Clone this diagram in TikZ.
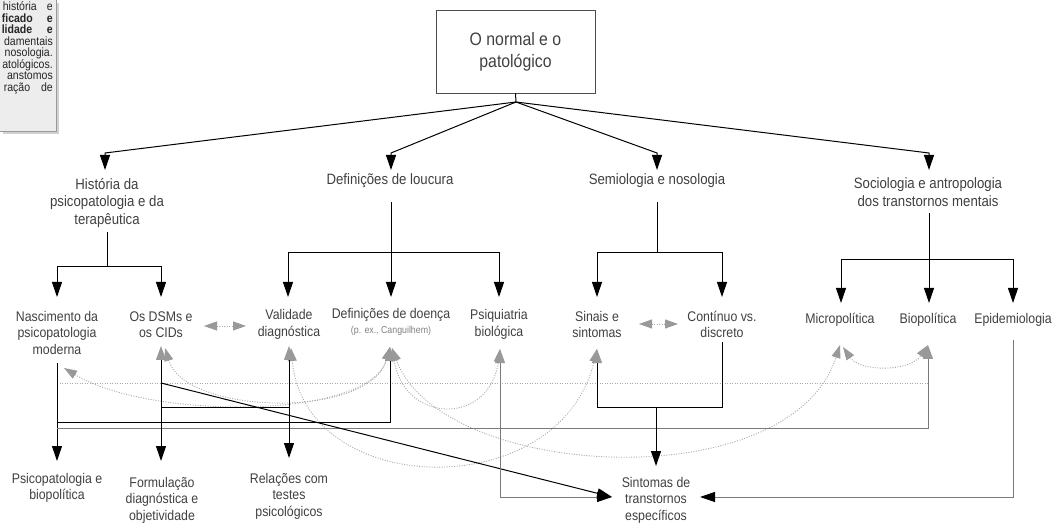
\documentclass[tikz,border=0pt]{standalone}
\usepackage{fontspec}
\setmainfont{Liberation Sans}[FakeStretch=0.88]
\usetikzlibrary{arrows.meta}
\definecolor{txt}{HTML}{404040}
\definecolor{gr}{HTML}{999999}
\definecolor{dotc}{HTML}{AAAAAA}
\definecolor{lg}{HTML}{7A7A7A}
\begin{document}
\begin{tikzpicture}[x=1pt,y=-1pt,
  every node/.style={text=txt,align=center,inner sep=0pt},
  ttl/.style={font=\fontsize{15}{17.5}\selectfont},
  lab/.style={font=\fontsize{14}{16.5}\selectfont},
  boxtxt/.style={font=\fontsize{12}{11.5}\selectfont,align=right,anchor=north east,text=black!85},
  ln/.style={draw=black,line width=1pt},
  lng/.style={draw=lg,line width=1pt},
  tipblack/.style={arrows={-Triangle[width=10pt,length=15pt,color=black]}},
  gstart/.style={arrows={Triangle[width=10pt,length=14pt,color=gr]-}},
  gboth/.style={arrows={Triangle[width=10pt,length=14pt,color=gr]-Triangle[width=10pt,length=15pt,color=black]}},
  dcurve/.style={draw=dotc,line width=0.9pt,dash pattern=on 1pt off 1.5pt,
    arrows={Triangle[width=9pt,length=13pt,color=gr]-Triangle[width=9pt,length=13pt,color=gr]}},
  dline/.style={draw=dotc,line width=0.9pt,dash pattern=on 1pt off 1.5pt}
]
\useasboundingbox (0,0) rectangle (1057,526);

% ---- text box at top left (only its right part is visible)
\fill[black!18] (3,3) rectangle (59,134);
\draw[draw=black!40,fill=black!7] (-2,-2) rectangle (56,131);
\node[boxtxt] (boxtext) at (53,1.5) {\makebox[50pt][s]{história e}\\
  \makebox[51pt][s]{\bfseries ficado e}\\
  \makebox[51pt][s]{\bfseries lidade e}\\
  damentais\\
  nosologia.\\
  atológicos.\\
  anstomos\\
  \makebox[49pt][s]{ração de}};

% ---- root
\node[draw=black!70,line width=0.8pt,minimum width=159pt,minimum height=83pt,
  font=\fontsize{18}{22}\selectfont] (root) at (515.5,51.5) {O normal e o\\patológico};

% ---- level 1
\node[ttl] (hist) at (107,203) {História da\\psicopatologia e da\\terapêutica};
\node[ttl] (defl) at (390,181) {Definições de loucura};
\node[ttl] (semi) at (657,181) {Semiologia e nosologia};
\node[ttl] (soc) at (928,192) {Sociologia e antropologia\\dos transtornos mentais};

% ---- level 2
\node[lab] (nasc) at (57,332.5) {Nascimento da\\psicopatologia\\moderna};
\node[lab] (dsm) at (161,324.5) {Os DSMs e\\os CIDs};
\node[lab] (val) at (289,324.5) {Validade\\diagnóstica};
\node[lab] (defd) at (391,322) {Definições de doença\\[-1.5pt]{\fontsize{10}{10}\selectfont\color{black!50}(p. ex., Canguilhem)}};
\node[lab] (psiq) at (499,324.5) {Psiquiatria\\biológica};
\node[lab] (sin) at (597,324.5) {Sinais e\\sintomas};
\node[lab] (cont) at (722,324.5) {Contínuo vs.\\discreto};
\node[lab] (micro) at (840,320) {Micropolítica};
\node[lab] (bio) at (928,320) {Biopolítica};
\node[lab] (epi) at (1013,320) {Epidemiologia};

% ---- level 3
\node[lab] (psib) at (57,488) {Psicopatologia e\\biopolítica};
\node[lab] (form) at (162,500) {Formulação\\diagnóstica e\\objetividade};
\node[lab] (rel) at (289,496) {Relações com\\testes\\psicológicos};
\node[lab] (sint) at (656,500) {Sintomas de\\transtornos\\específicos};

% ---- root fan
\coordinate (hub) at (516,102);
\draw[ln] (root.south) -- (hub);
\coordinate (f1) at (105,153); \coordinate (f1t) at (105,170);
\coordinate (f2) at (391,153); \coordinate (f2t) at (391,170);
\coordinate (f3) at (657,153); \coordinate (f3t) at (657,170);
\coordinate (f4) at (929,153); \coordinate (f4t) at (929,170);
\draw[ln,tipblack] (hub) -- (f1) -- (f1t);
\draw[ln,tipblack] (hub) -- (f2) -- (f2t);
\draw[ln,tipblack] (hub) -- (f3) -- (f3t);
\draw[ln,tipblack] (hub) -- (f4) -- (f4t);

% ---- history branch
\coordinate (hs) at (107,232); \coordinate (hb) at (107,267);
\coordinate (hl) at (57,297); \coordinate (hr) at (161,297);
\draw[ln] (hs) -- (hb);
\draw[ln,tipblack] (hb) -| (hl);
\draw[ln,tipblack] (hb) -| (hr);

% ---- definitions branch
\coordinate (ds) at (391,202); \coordinate (db) at (391,253);
\coordinate (dl) at (288,297); \coordinate (dm) at (391,297); \coordinate (dr) at (499,297);
\draw[ln,tipblack] (ds) -- (dm);
\draw[ln,tipblack] (db) -| (dl);
\draw[ln,tipblack] (db) -| (dr);

% ---- semiology branch
\coordinate (ss) at (657,202); \coordinate (sb) at (657,253);
\coordinate (sl) at (597,297); \coordinate (sr) at (722,297);
\draw[ln] (ss) -- (sb);
\draw[ln,tipblack] (sb) -| (sl);
\draw[ln,tipblack] (sb) -| (sr);

% ---- sociology branch
\coordinate (cs) at (929,213); \coordinate (cb) at (929,260);
\coordinate (cl) at (841,303); \coordinate (cm) at (929,303); \coordinate (cr) at (1013,303);
\draw[ln,tipblack] (cs) -- (cm);
\draw[ln,tipblack] (cb) -| (cl);
\draw[ln,tipblack] (cb) -| (cr);

% ---- tips of level 2 nodes (bottom side)
\coordinate (nasc-t) at (64,368);
\coordinate (dsm-t) at (161,346);
\coordinate (val-t) at (289,346);
\coordinate (defd-t) at (390,347);
\coordinate (psiq-t) at (500,349);
\coordinate (sin-t) at (597,349);
\coordinate (micro-t) at (840,345);
\coordinate (bio-t) at (928,345);
\coordinate (cont-b) at (722,342);
\coordinate (epi-b) at (1013,340);
\coordinate (nasc-b) at (57,363);

% ---- dotted relations
\draw[dline] (57,383) -- (928,383);
\coordinate (dv1) at (204,326); \coordinate (dv2) at (246,326);
\draw[dcurve] (dv1) -- (dv2);
\coordinate (sc1) at (639,324); \coordinate (sc2) at (678,324);
\draw[dcurve] (sc1) -- (sc2);
\draw[dcurve] (nasc-t) .. controls (150,420) and (370,420) .. (defd-t);
\draw[dcurve] (165,348) .. controls (185,415) and (370,420) .. (defd-t);
\draw[dcurve] (291,348) .. controls (305,500) and (560,505) .. (sin-t);
\draw[dcurve] (392,348) .. controls (405,425) and (490,425) .. (psiq-t);
\draw[dcurve] (392,348) .. controls (440,480) and (790,500) .. (micro-t);
\draw[dcurve] (843,347) .. controls (860,372) and (910,372) .. (bio-t);

% ---- solid lower connections
\coordinate (psib-t) at (57,461);
\coordinate (form-t) at (161,461);
\coordinate (rel-t) at (289,458);
\coordinate (sint-l) at (612,497);
\coordinate (sint-r) at (700,497);
\coordinate (sint-t) at (656,466);
\draw[ln,tipblack] (nasc-b) -- (psib-t);
\draw[ln,gstart] (defd-t) -- (390,422) -- (57,422);
\draw[lng,gstart] (bio-t) -- (928,428) -- (57,428);
\draw[ln,gboth] (dsm-t) -- (form-t);
\draw[ln,gboth] (val-t) -- (rel-t);
\draw[ln] (289,407) -- (161,407);
\draw[ln,tipblack] (161,383) -- (sint-l);
\draw[lng,gboth] (psiq-t) -- (500,497) -- (sint-l);
\draw[ln,gstart] (sin-t) -- (597,407) -- (722,407) -- (cont-b);
\draw[ln,tipblack] (656,407) -- (sint-t);
\draw[lng,tipblack] (epi-b) -- (1013,497) -- (sint-r);
\end{tikzpicture}
\end{document}
